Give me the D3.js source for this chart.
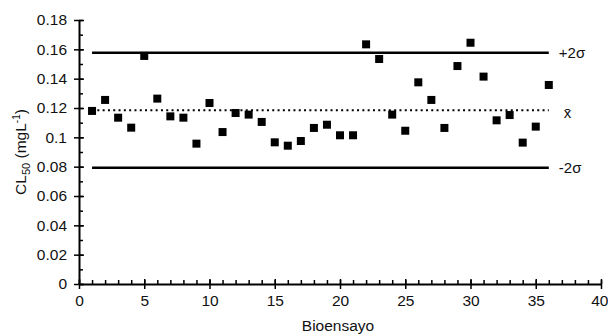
<!DOCTYPE html>
<html>
<head>
<meta charset="utf-8">
<script src="https://cdn.jsdelivr.net/npm/d3@7"></script>
<style>
  body { margin: 0; background: #fff; }
  text { font-family: "Liberation Sans", Arial, sans-serif; fill: #111; }
</style>
</head>
<body>
<svg id="chart" width="608" height="336"></svg>
<script>
// bioassay number and CL50 values
const bioensayo = d3.range(1, 37);
const cl50 = [0.118, 0.1255, 0.1134, 0.1066, 0.1555, 0.1264, 0.1143, 0.1134, 0.0957, 0.1234,
  0.1036, 0.1166, 0.1155, 0.1105, 0.0966, 0.0943, 0.0975, 0.1064, 0.1086, 0.1014,
  0.1014, 0.1634, 0.1534, 0.1155, 0.1045, 0.1375, 0.1255, 0.1064, 0.1486, 0.1645,
  0.1414, 0.1116, 0.1152, 0.0964, 0.1073, 0.1357];
const refNames = ["+2σ", "x̄", "-2σ"];
const refValues = [0.1577, 0.1184, 0.0793];
const xTicks = [0, 5, 10, 15, 20, 25, 30, 35, 40];
const yTicks = [0, 0.02, 0.04, 0.06, 0.08, 0.1, 0.12, 0.14, 0.16, 0.18];

const MarginLeft = 79, MarginRight = 7, MarginTop = 20, MarginBottom = 52;
const Width = 608, Height = 336;
const FontSize = 15.5;

const X = d3.scaleLinear().domain([0, 40]).range([MarginLeft, Width - MarginRight]);
const Y = d3.scaleLinear().domain([0, 0.18]).range([Height - MarginBottom, MarginTop]);

const svg = d3.select("#chart");

// minor ticks (inside)
svg.append("g")
  .attr("transform", `translate(0,${Y(0)})`)
  .call(d3.axisBottom(X).ticks(40).tickSize(-4).tickFormat(""))
  .call(g => g.select(".domain").remove())
  .selectAll("line").attr("stroke", "#000").attr("stroke-width", 1.5);
svg.append("g")
  .attr("transform", `translate(${X(0)},0)`)
  .call(d3.axisLeft(Y).ticks(18).tickSize(-4).tickFormat(""))
  .call(g => g.select(".domain").remove())
  .selectAll("line").attr("stroke", "#000").attr("stroke-width", 1.5);

// x axis: major ticks crossing the axis
const xAxis = svg.append("g")
  .attr("transform", `translate(0,${Y(0)})`)
  .call(d3.axisBottom(X).tickValues(xTicks).tickSize(5).tickSizeOuter(0).tickPadding(6).tickFormat(d3.format("d")));
xAxis.selectAll(".tick line").attr("y1", -5);
xAxis.select(".domain").attr("stroke-width", 2);
xAxis.selectAll("line").attr("stroke-width", 1.5);
xAxis.selectAll("text").attr("font-size", FontSize).attr("fill", "#111");
// keep the last label inside the page
xAxis.selectAll("text").filter(d => d === 40).attr("text-anchor", "end").attr("dx", 7);

const yAxis = svg.append("g")
  .attr("transform", `translate(${X(0)},0)`)
  .call(d3.axisLeft(Y).tickValues(yTicks).tickSize(5).tickSizeOuter(0).tickPadding(7)
    .tickFormat(d => d === 0 ? "0" : d3.format(".2~f")(d)));
yAxis.selectAll(".tick line").attr("x1", 5);
yAxis.select(".domain").attr("stroke-width", 2);
yAxis.selectAll("line").attr("stroke-width", 1.5);
yAxis.selectAll("text").attr("font-size", FontSize).attr("fill", "#111");

// reference lines from first to last bioassay
svg.append("g").selectAll("line")
  .data(refValues)
  .join("line")
  .attr("x1", X(bioensayo[0]))
  .attr("x2", X(bioensayo[bioensayo.length - 1]))
  .attr("y1", d => Y(d))
  .attr("y2", d => Y(d))
  .attr("stroke", "#000")
  .attr("stroke-width", (d, i) => i === 1 ? 2 : 2.5)
  .attr("stroke-dasharray", (d, i) => i === 1 ? "2 3.3" : null);

svg.append("g").selectAll("text")
  .data(refNames)
  .join("text")
  .attr("x", (d, i) => X(bioensayo[bioensayo.length - 1]) + (i === 1 ? 15 : 10))
  .attr("y", (d, i) => Y(refValues[i]) + (i === 1 ? 8 : 5))
  .attr("font-family", "DejaVu Sans, sans-serif")
  .attr("font-size", 15)
  .text(d => d);

// points
const s = 8;
svg.append("g").selectAll("rect")
  .data(cl50)
  .join("rect")
  .attr("x", (d, i) => X(bioensayo[i]) - s / 2)
  .attr("y", d => Y(d) - s / 2)
  .attr("width", s)
  .attr("height", s)
  .attr("fill", "#000");

// axis titles
svg.append("text")
  .attr("x", 338).attr("y", 331)
  .attr("text-anchor", "middle")
  .attr("font-size", FontSize)
  .text("Bioensayo");

const yt = svg.append("text")
  .attr("transform", `translate(26,${(Y(0) + Y(0.18)) / 2}) rotate(-90)`)
  .attr("text-anchor", "middle")
  .attr("font-size", FontSize);
yt.append("tspan").text("CL");
yt.append("tspan").attr("font-size", 11).attr("dy", 4).text("50");
yt.append("tspan").attr("dy", -4).text(" (mgL");
yt.append("tspan").attr("font-size", 10).attr("dy", -6).text("-1");
yt.append("tspan").attr("dy", 6).text(")");
</script>
</body>
</html>
